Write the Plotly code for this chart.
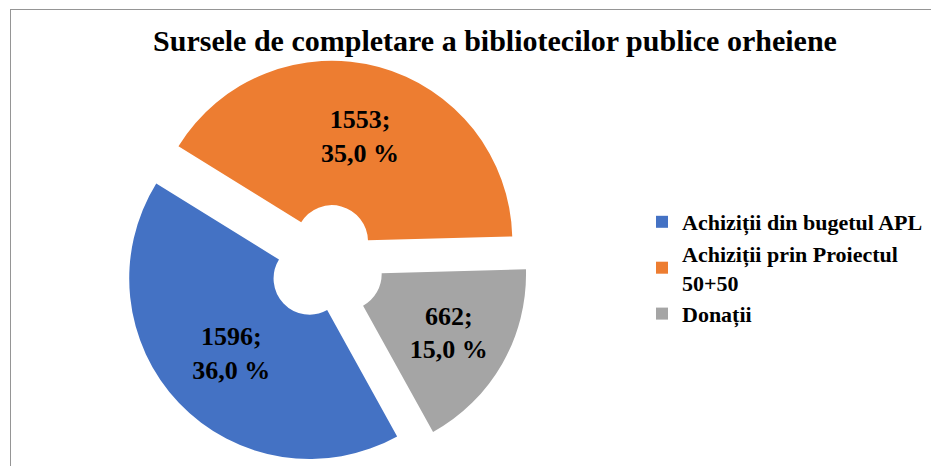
import plotly.graph_objects as go

# Data
categories = ["Achiziții din bugetul APL", "Achiziții prin Proiectul<br>50+50", "Donații"]
values = [1596, 1553, 662]
pct_labels = ["36,0 %", "35,0 %", "15,0 %"]
colors = ["#4472C4", "#ED7D31", "#A5A5A5"]
title_text = "Sursele de completare a bibliotecilor publice orheiene"

W, H = 931, 466
cx, cy = 326, 263   # pie centre in px (from top-left)
half = 203          # half-size of pie domain in px

text = [f"{v};<br>{p}" for v, p in zip(values, pct_labels)]

fig = go.Figure(go.Pie(
    labels=categories,
    values=values,
    text=text,
    textinfo="text",
    textposition="inside",
    insidetextorientation="horizontal",
    textfont=dict(family="Liberation Serif", size=26, color="black", weight="bold"),
    marker=dict(colors=colors, line=dict(width=0)),
    hole=0.2,
    pull=[0.125, 0.125, 0.125],
    sort=False,
    direction="clockwise",
    rotation=151,
    domain=dict(x=[(cx - half) / W, (cx + half) / W],
                y=[max(0, (H - cy - half) / H), (H - cy + half) / H]),
    hoverinfo="label+value",
))

border = dict(color="#959595", width=1)
fig.update_layout(
    width=W, height=H,
    margin=dict(l=0, r=0, t=0, b=0),
    paper_bgcolor="white",
    plot_bgcolor="white",
    title=dict(text="<b>" + title_text + "</b>", x=495 / W, xanchor="center",
               y=1 - 40 / H, yanchor="middle",
               font=dict(family="Liberation Serif", size=30, color="black")),
    legend=dict(x=642 / W, xanchor="left", y=1 - 268 / H, yanchor="middle",
                font=dict(family="Liberation Serif", size=22, color="black", weight="bold"),
                bgcolor="rgba(0,0,0,0)"),
    shapes=[
        dict(type="line", xref="paper", yref="paper",
             x0=10 / W, x1=1, y0=1 - 9.5 / H, y1=1 - 9.5 / H, line=border, layer="below"),
        dict(type="line", xref="paper", yref="paper",
             x0=10.5 / W, x1=10.5 / W, y0=0, y1=1 - 9.5 / H, line=border, layer="below"),
    ],
)

fig.write_html("out.html", config={"displayModeBar": False},
               post_script="document.body.style.margin='0px';document.body.style.overflow='hidden';")
